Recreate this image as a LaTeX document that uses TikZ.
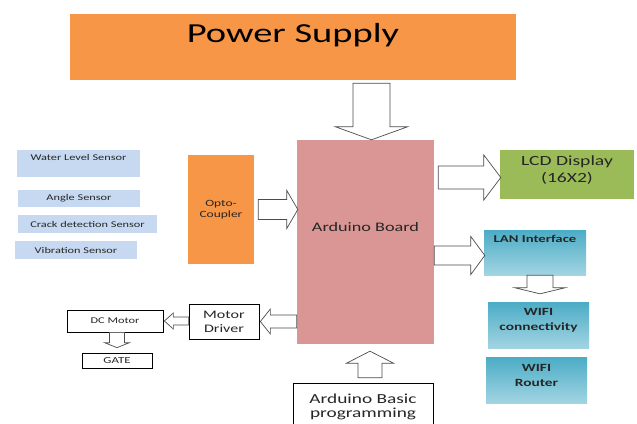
\documentclass[tikz,border=0pt]{standalone}
\usepackage{fontspec}
\setmainfont{Carlito}[FakeStretch=1.4]
\usetikzlibrary{calc}

\definecolor{psuorange}{HTML}{F79646}
\definecolor{boardpink}{HTML}{D99694}
\definecolor{lcdgreen}{HTML}{9BBB59}
\definecolor{sensorblue}{HTML}{C6D9F1}
\definecolor{tealtop}{HTML}{4BACC6}
\definecolor{tealbot}{HTML}{A2D4E2}
\definecolor{txtgray}{HTML}{262626}

\tikzset{
  box/.style={rectangle, inner sep=0pt, text=txtgray, align=center},
  plain/.style={box, draw=black, line width=0.7pt, fill=white},
  sensor/.style={box, fill=sensorblue, font=\fontsize{8.8}{10}\selectfont},
  netbox/.style={box, top color=tealtop, bottom color=tealbot},
  nettext/.style={text=txtgray, align=center, inner sep=0pt, font=\bfseries\fontsize{11}{15}\selectfont},
  block arrow/.style={draw=black!70, line width=0.7pt, fill=white, line join=miter},
}

% hollow block arrow: start, tip, shaft half width, head half width, head length
\newcommand{\blockarrow}[5]{%
  \coordinate (ba head) at ($(#2)!#5pt!(#1)$);
  \draw[block arrow] ($(#1)!#3pt!90:(#2)$) -- ($(ba head)!#3pt!-90:(#1)$)
    -- ($(ba head)!#4pt!-90:(#1)$) -- (#2)
    -- ($(ba head)!#4pt!90:(#1)$) -- ($(ba head)!#3pt!90:(#1)$)
    -- ($(#1)!#3pt!-90:(#2)$) -- cycle;}

\begin{document}
\begin{tikzpicture}[x=1pt,y=-1pt]
    \useasboundingbox (0,0) rectangle (637,423);
    \clip (0,0) rectangle (637,423);

    % main blocks
    \node[box, fill=psuorange, minimum width=446pt, minimum height=66pt] (psu) at (293,47) {};
    \node[font=\fontsize{27.5}{30}\selectfont, text=black, inner sep=0pt] (psu text) at ($(psu)+(0,-12)$) {Power Supply};

    \node[box, fill=boardpink, minimum width=137pt, minimum height=204pt] (arduino) at (365.5,242) {};
    \node[font=\fontsize{13}{15}\selectfont, text=txtgray, inner sep=0pt] (arduino text) at ($(arduino)+(0,-15)$) {Arduino Board};

    \node[box, fill=psuorange, minimum width=66pt, minimum height=109pt,
          font=\fontsize{9.6}{11}\selectfont] (opto) at (221,209.5) {Opto-\\Coupler};

    \node[box, fill=lcdgreen, minimum width=134pt, minimum height=49pt] (lcd) at (567,174.5) {};
    \node[font=\fontsize{14}{17}\selectfont, text=txtgray, align=center, inner sep=0pt] (lcd text) at ($(lcd)+(0,-4)$) {LCD Display\\(16X2)};

    % network side
    \node[netbox, minimum width=102pt, minimum height=45pt] (lan) at (535,252.5) {};
    \node[nettext, font=\bfseries\fontsize{10.5}{12}\selectfont] (lan text) at ($(lan)+(0,-14)$) {LAN Interface};
    \node[netbox, minimum width=101pt, minimum height=46pt] (wificon) at (538.5,325) {};
    \node[nettext] (wificon text) at ($(wificon)+(0,-5)$) {WIFI\\connectivity};
    \node[netbox, minimum width=101pt, minimum height=46pt] (wifirouter) at (536.5,380) {};
    \node[nettext] (wifirouter text) at ($(wifirouter)+(0,-5)$) {WIFI\\Router};

    % motor side
    \node[plain, minimum width=70pt, minimum height=35pt, font=\fontsize{11.5}{14}\selectfont] (motor) at (224,321.5) {Motor\\Driver};
    \node[plain, minimum width=96pt, minimum height=22pt, font=\fontsize{8.8}{10}\selectfont] (dcmotor) at (115,321) {DC Motor};
    \node[plain, minimum width=70pt, minimum height=15pt, font=\fontsize{9.2}{10}\selectfont] (gate) at (117,360.5) {GATE};
    \node[plain, minimum width=140pt, minimum height=57pt] (basic) at (363,411.5) {};
    \node[font=\fontsize{13.8}{14.5}\selectfont, text=txtgray, align=center, inner sep=0pt] (basic text) at ($(basic)+(0,-4.5)$) {Arduino Basic\\programming};

    % sensors
    \node[sensor, minimum width=123pt, minimum height=27pt] (water) at (78.5,163.5) {};
    \node[font=\fontsize{8.8}{10}\selectfont, text=txtgray, inner sep=0pt] (water text) at ($(water)+(0,-6)$) {Water Level Sensor};
    \node[sensor, minimum width=122pt, minimum height=17pt] (angle) at (79,198.5) {Angle Sensor};
    \node[sensor, minimum width=139pt, minimum height=18pt] (crack) at (87.5,224) {Crack detection Sensor};
    \node[sensor, minimum width=122pt, minimum height=18pt] (vibration) at (76,250) {Vibration Sensor};

    % block arrows
    \coordinate (pwr a) at ($(psu.south)+(78.5,3)$);
    \coordinate (pwr b) at ($(arduino.north)+(6,0)$);
    \blockarrow{pwr a}{pwr b}{18.5}{36}{13}

    \coordinate (opto a) at ($(opto.east)+(4,0)$);
    \coordinate (opto b) at ($(opto.east -| arduino.west)+(1,0)$);
    \blockarrow{opto a}{opto b}{10}{19}{11}

    \coordinate (lcd b) at ($(lcd.west)+(1,3)$);
    \coordinate (lcd a) at ($(lcd b -| arduino.east)+(4,0)$);
    \blockarrow{lcd a}{lcd b}{11.5}{22.5}{17}

    \coordinate (lan b) at ($(lan.west)+(1,3)$);
    \coordinate (lan a) at (lan b -| arduino.east);
    \blockarrow{lan a}{lan b}{9.5}{19}{14}

    \coordinate (wifi a) at ($(lan.south)+(5,0)$);
    \coordinate (wifi b) at ($(wifi a |- wificon.north)+(0,-8)$);
    \blockarrow{wifi a}{wifi b}{13}{25}{6}

    \coordinate (drv a) at (motor.east -| arduino.west);
    \coordinate (drv b) at ($(motor.east)+(1,0)$);
    \blockarrow{drv a}{drv b}{6.5}{12.5}{10}

    \coordinate (dc a) at (dcmotor.east -| motor.west);
    \coordinate (dc b) at ($(dcmotor.east)+(1,0)$);
    \blockarrow{dc a}{dc b}{4}{8}{9}

    \coordinate (gate a) at (gate.north |- dcmotor.south);
    \coordinate (gate b) at ($(gate.north)+(0,-5)$);
    \blockarrow{gate a}{gate b}{7.5}{12.5}{5}

    \coordinate (prog a) at ($(basic.north)+(7,-5)$);
    \coordinate (prog b) at ($(basic.north |- arduino.south)+(7,7)$);
    \blockarrow{prog a}{prog b}{12}{23.5}{12}
\end{tikzpicture}
\end{document}
